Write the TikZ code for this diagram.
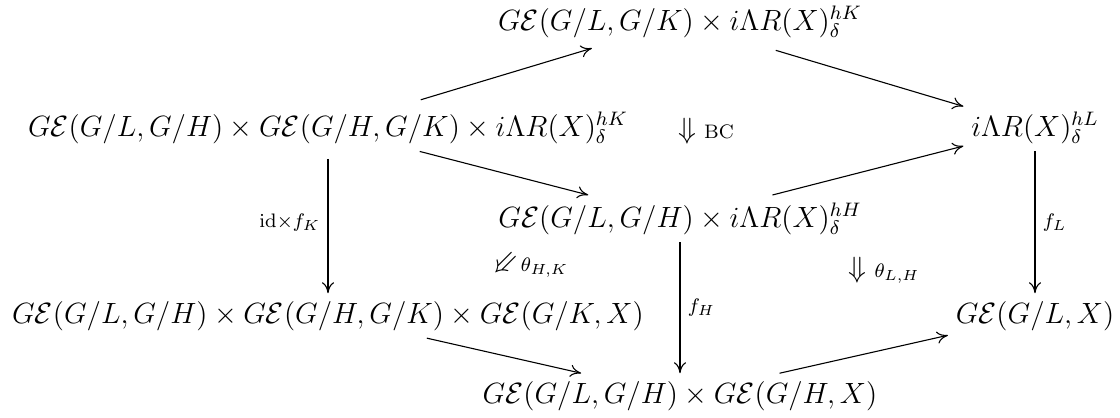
\documentclass[tikz,border=0pt]{standalone}
\usepackage{amsmath,amssymb}
\usepackage{graphicx}
\usepackage{tikz}
\usetikzlibrary{arrows.meta}

\begin{document}
\begin{tikzpicture}[x=0.4096pt, y=-0.4096pt,
    every node/.style={font=\large, inner sep=3pt},
    map/.style={-{To[length=4.5pt,width=5pt]}, line width=0.45pt}]
    \useasboundingbox (0,0) rectangle (1120,417);
    % objects
    \node[anchor=base] (top) at (680,30) {$G\mathcal{E}(G/L,G/K)\times i\Lambda R(X)^{hK}_{\delta}$};
    \node[anchor=base] (lt) at (328,136) {$G\mathcal{E}(G/L,G/H)\times G\mathcal{E}(G/H,G/K)\times i\Lambda R(X)^{hK}_{\delta}$};
    \node[anchor=base] (rt) at (1035,136) {$i\Lambda R(X)^{hL}_{\delta}$};
    \node[anchor=base] (mid) at (680,227) {$G\mathcal{E}(G/L,G/H)\times i\Lambda R(X)^{hH}_{\delta}$};
    \node[anchor=base] (lb) at (328,323) {$G\mathcal{E}(G/L,G/H)\times G\mathcal{E}(G/H,G/K)\times G\mathcal{E}(G/K,X)$};
    \node[anchor=base] (rb) at (1035,323) {$G\mathcal{E}(G/L,X)$};
    \node[anchor=base] (bot) at (680,403) {$G\mathcal{E}(G/L,G/H)\times G\mathcal{E}(G/H,X)$};
    % 2-cells
    \node (bc) at (706,131) {$\Downarrow\;\scriptstyle\mathrm{BC}$};
    \node (thk) at (529,264) {\rotatebox[origin=c]{-45}{$\Downarrow$}$\scriptstyle\theta_{H,K}$};
    \node (tlh) at (884,270) {$\Downarrow\;\scriptstyle\theta_{L,H}$};
    % maps
    \draw[map, shorten <=6pt, shorten >=4pt] (lt) -- (top);
    \draw[map, shorten <=7pt] (top) -- (rt);
    \draw[map] (lt) -- (mid);
    \draw[map] (mid) -- (rt);
    \draw[map, shorten <=3pt] (lt) -- node[left] {$\scriptstyle\mathrm{id}\times f_K$} (lb);
    \draw[map] (mid) -- node[right] {$\scriptstyle f_H$} (bot);
    \draw[map] (rt) -- node[right] {$\scriptstyle f_L$} (rb);
    \draw[map] (lb) -- (bot);
    \draw[map] (bot) -- (rb);
\end{tikzpicture}
\end{document}
